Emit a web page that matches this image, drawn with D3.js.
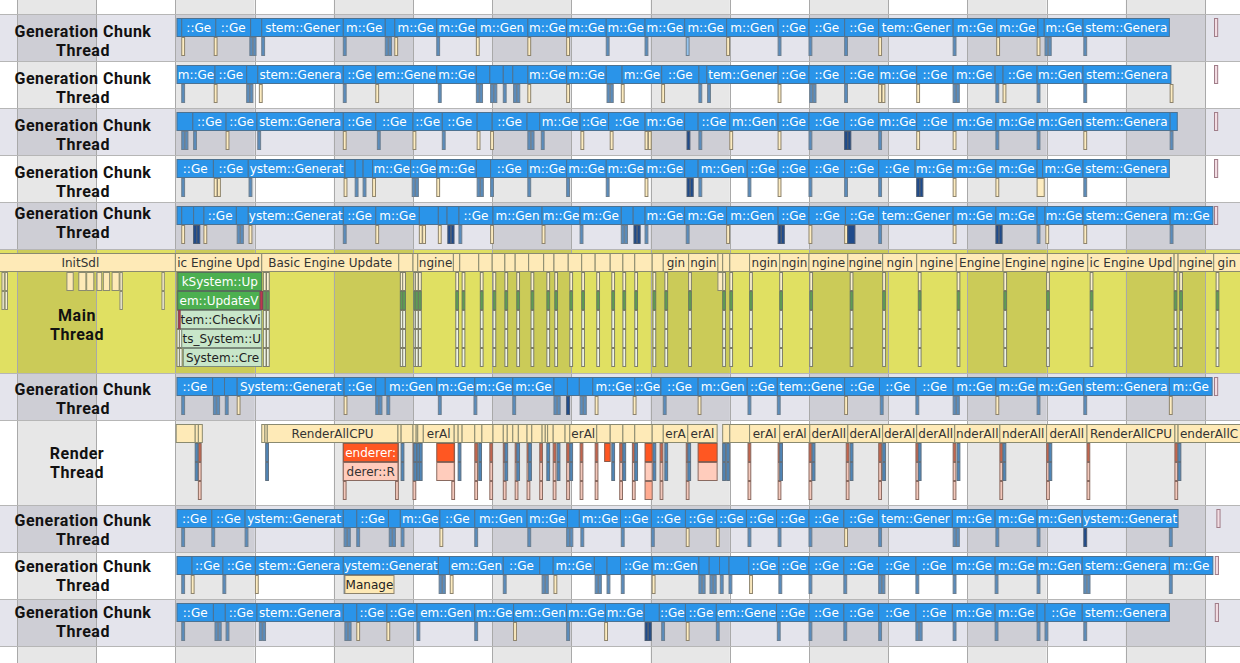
<!DOCTYPE html>
<html><head><meta charset="utf-8">
<script src="https://cdn.jsdelivr.net/npm/d3@7"></script>
<style>body{margin:0;background:#fff;overflow:hidden}svg{display:block}</style>
</head><body><svg id="chart" width="1240" height="663"></svg>
<script>
// ---------- DATA (time in ms) ----------
const columnTicks = [0,100,200,300,400,500,600,700,800,900,1000,1100,1200,1300,1400,1500];
const threadNames = ["Generation Chunk Thread","Generation Chunk Thread","Generation Chunk Thread","Generation Chunk Thread","Generation Chunk Thread","Main Thread","Generation Chunk Thread","Render Thread","Generation Chunk Thread","Generation Chunk Thread","Generation Chunk Thread"];
const threadDepth = [2,2,2,2,2,6,2,4,2,2,2];
const genLabel = "ChunkSystem::GenerateChunk";

const gen1Bounds = [202,208,251,295,309,412,465,477,530,580,645,694,744,793,843,896,961,1000,1045,1088,1182,1237,1289,1297,1346,1455];
const gen1Subs = [[208,'t'],[249,'t'],[294,'b2'],[309,'b'],[412,'b'],[465,'b2'],[477,'t'],[530,'b'],[580,'t'],[645,'t'],[694,'t'],[744,'b'],[793,'b'],[845,'lb'],[896,'t'],[961,'b'],[1000,'b'],[1045,'b'],[1088,'t'],[1182,'b'],[1237,'t'],[1288,'t'],[1298,'b2'],[1347,'b'],[1512,'m']];
const gen2Bounds = [202,250,290,304,412,453,530,580,597,614,626,645,694,744,764,814,861,871,961,1000,1045,1088,1136,1182,1235,1245,1288,1346,1457];
const gen2Subs = [[208,'b'],[249,'t'],[290,'b2'],[306,'t'],[412,'b'],[453,'t'],[532,'b'],[580,'b2'],[598,'b2'],[614,'b'],[627,'b2'],[645,'t'],[694,'t'],[745,'b2'],[763,'t'],[814,'t'],[861,'b'],[872,'b'],[961,'t'],[1001,'b2'],[1045,'b'],[1088,'t2'],[1136,'t'],[1182,'b2'],[1236,'b'],[1245,'t'],[1288,'b'],[1347,'b'],[1456,'t'],[1512,'m']];
const gen3Bounds = [202,222,264,303,412,453,500,537,581,600,644,660,711,747,793,843,860,900,961,1000,1045,1088,1136,1182,1236,1288,1346,1456,1465];
const gen3Subs = [[208,'b2'],[223,'b'],[264,'t'],[304,'b'],[412,'t'],[455,'b'],[500,'t'],[537,'b'],[581,'t'],[598,'t'],[645,'b2'],[662,'b'],[712,'t'],[749,'t'],[793,'t2'],[846,'db'],[861,'b'],[900,'t'],[961,'t'],[1000,'b'],[1045,'db2'],[1088,'b'],[1136,'t'],[1182,'t'],[1236,'b'],[1288,'b'],[1347,'t'],[1456,'b'],[1512,'m']];
const gen4Bounds = [202,248,292,414,427,437,449,497,530,580,598,645,694,744,793,843,860,922,961,1000,1045,1088,1134,1182,1236,1288,1295,1346,1455];
const gen4Subs = [[208,'b'],[249,'t2'],[293,'b'],[413,'t'],[427,'b'],[437,'b'],[449,'t'],[499,'b2'],[530,'t'],[581,'b2'],[598,'b'],[645,'b'],[694,'b'],[744,'b'],[793,'t'],[846,'db2'],[861,'b'],[923,'b'],[961,'t'],[1000,'b'],[1045,'b'],[1088,'b'],[1136,'db2'],[1182,'t'],[1236,'t'],[1288,'tw'],[1347,'b'],[1512,'m']];
const gen5Bounds = [202,208,223,236,277,292,412,453,508,532,543,558,601,663,711,763,778,793,843,896,961,1000,1046,1088,1182,1236,1288,1298,1346,1456,1510];
const gen5Subs = [[208,'t'],[223,'db2'],[236,'t'],[278,'b2'],[293,'t'],[412,'b'],[453,'t'],[508,'t2'],[532,'t'],[544,'db2'],[558,'b'],[598,'t'],[663,'t'],[711,'b'],[763,'b2'],[779,'db2'],[793,'b'],[845,'b'],[896,'t'],[961,'db2'],[1000,'t'],[1045,'t'],[1049,'dbw'],[1088,'b'],[1182,'t'],[1236,'db2'],[1288,'b'],[1299,'t'],[1347,'t'],[1456,'b'],[1512,'m']];
const gen6Bounds = [202,247,262,278,413,453,465,530,578,626,678,695,710,727,780,813,860,922,960,1045,1089,1135,1182,1236,1288,1347,1455,1509];
const gen6Subs = [[208,'b'],[248,'b2'],[263,'b'],[278,'t'],[413,'t'],[453,'b2'],[467,'b'],[532,'b'],[577,'b'],[626,'b'],[678,'b2'],[694,'db'],[711,'b2'],[730,'t'],[778,'t'],[816,'b'],[860,'t'],[923,'b'],[960,'b'],[1045,'t'],[1090,'b'],[1135,'b'],[1182,'b2'],[1236,'t'],[1288,'b'],[1347,'b'],[1455,'t'],[1512,'m']];
const gen9Bounds = [202,246,288,412,429,469,484,534,578,644,695,710,762,801,844,883,921,959,1000,1044,1088,1181,1235,1288,1345,1466];
const gen9Subs = [[208,'b'],[246,'b'],[288,'b'],[413,'b2'],[429,'b'],[470,'b2'],[485,'b'],[534,'t'],[578,'b'],[645,'b'],[694,'b2'],[712,'b'],[763,'b'],[801,'b'],[845,'t'],[883,'t'],[923,'b'],[961,'b'],[1000,'b'],[1045,'t'],[1088,'b'],[1182,'b2'],[1236,'b'],[1288,'b'],[1347,'db'],[1455,'b'],[1515,'m']];
const gen10Bounds = [202,221,260,301,412,532,546,614,660,677,729,745,762,802,861,874,887,899,924,962,1000,1044,1088,1135,1181,1235,1288,1345,1455,1510];
const gen10Subs = [[208,'b'],[220,'t'],[260,'b'],[301,'t'],[413,'b'],[533,'b2'],[547,'t'],[614,'b'],[663,'b2'],[678,'t'],[730,'b2'],[745,'b'],[763,'b'],[802,'t'],[861,'b2'],[875,'b2'],[888,'b'],[899,'b'],[925,'t'],[962,'b'],[1000,'b'],[1044,'b'],[1088,'b2'],[1135,'b'],[1182,'b'],[1235,'b'],[1288,'b'],[1347,'b2'],[1455,'b'],[1513,'m']];
const gen10Extra = [[414,476,1,"Manager"]];
const gen11Bounds = [202,248,263,303,412,429,467,505,578,627,694,743,792,811,844,883,959,1000,1044,1088,1135,1181,1235,1288,1298,1345,1455];
const gen11Subs = [[208,'b'],[250,'b2'],[264,'b'],[306,'b2'],[414,'b2'],[429,'t'],[467,'t'],[505,'b'],[578,'b'],[627,'t'],[694,'b'],[742,'t'],[793,'db2'],[814,'b'],[845,'t'],[883,'b'],[960,'b'],[1000,'b'],[1044,'b'],[1088,'b'],[1135,'b2'],[1182,'b'],[1235,'b'],[1288,'b'],[1298,'b'],[1347,'b'],[1513,'m']];

// Main thread
const initSdl = [-40,200,"InitSdl"];
const engineBounds = [200,309,482,500,506,551,559,583,600,616,629,646,665,678,696,713,730,749,765,780,802,816,848,885,891,900,925,963,1000,1049,1093,1136,1186,1245,1301,1352,1461,1466,1511,1570];
const engineLabel = "Basic Engine Update";
const initChildren = [[63,71],[78,87],[88,97],[101,107],[109,117],[120,129]];
const initThin = [-19,-15,130,183];
const mainThin = [202,205,311,315,484,487,501,503,507,554,562,585,601,616,631,649,669,679,698,713,732,751,765,780,803,818,848,891,900,925,963,1001,1052,1093,1138,1187,1246,1300,1355,1461,1468,1514];
const mainBlocks = [
  [203,309,1,"ChunkSystem::Update","g"],
  [203,307,2,"ViewSystem::UpdateVisibility","g"],
  [307,310,2,"","r"],
  [205,309,3,"ViewSystem::CheckVisibility","lg"],
  [204,206,3,"","r"],
  [208,309,4,"Effects_System::Update","lg"],
  [210,309,5,"RenderSystem::CreateMesh","lg"],
  [885,891,1,"","t"]
];

// Render thread
const renderTopGroups = [
  [201,225,229,234],
  [309,313,316,481,485,500,504,506,513,552,557,562,578,587,601,614,619,626,633,644,650,663,667,670,677,692,698,732,749,765,780,802,816,847,884],
  [891,900,925,963,1001,1049,1093,1136,1184,1241,1300,1351,1462,1466,1570]
];
const renderLabel = "RenderAllCPU";
const renderBlocks = [
  [412,481,1,"MeshRenderer::Draw","red"],[412,481,2,"SpriteRenderer::RenderBatch","pink"],
  [530,552,1,"MeshRenderer::Draw","red"],[530,552,2,"SpriteRenderer::RenderBatch","pink"],
  [742,749,1,"","red"],
  [793,802,1,"","red"],[793,802,2,"","pink"],[793,802,3,"","salmon"],
  [860,884,1,"MeshRenderer::Draw","red"],[860,884,2,"SpriteRenderer::RenderBatch","pink"]
];
const renderThinR = [229,412,478,500,549,578,597,614,629,644,660,677,694,711,730,761,777,812,845,923,961,1000,1047,1088,1135,1182,1241,1300,1351,1462];
const renderThinB = [225,314,485,501,505,508,557,583,616,631,646,669,682,698,751,765,780,803,818,847,891,896,963,1004,1052,1093,1138,1187,1245,1303,1466];

// ---------- RENDER ----------
const W = 1240, H = 663, LV = 19;
const svg = d3.select("#chart");
const x = d3.scaleLinear().domain([0,1500]).range([17,1205]);

let yCur = 14;
const rows = threadNames.map((n,i)=>{
  const h = threadDepth[i]*LV + 9 + (i===5?1:0);
  const r = {name:n, i, top:yCur, h};
  yCur += h; return r;
});
const labelOffset = [27,26.5,27,26.5,21,75.5,25.5,42.5,24.5,23.5,22.5];

svg.append("rect").attr("width",W).attr("height",H).attr("fill","#ffffff");
rows.forEach(r=>{
  svg.append("rect").attr("x",0).attr("y",r.top).attr("width",W).attr("height",r.h)
    .attr("fill", r.i===5 ? "#e0e062" : (r.i%2===0 ? "#e4e4ec" : "#ffffff"));
});
columnTicks.forEach((t,k)=>{
  if(k%2===0) svg.append("rect").attr("x",x(t)).attr("y",0).attr("width",x(t+100)-x(t)).attr("height",H).attr("fill","rgba(0,0,0,0.095)");
});
svg.append("g").selectAll("line").data(columnTicks).join("line")
  .attr("x1",d=>Math.round(x(d))+0.5).attr("x2",d=>Math.round(x(d))+0.5).attr("y1",0).attr("y2",H)
  .attr("stroke","#a9a9a9").attr("stroke-width",1);
svg.append("g").selectAll("line").data(rows.map(r=>r.top).concat([yCur])).join("line")
  .attr("x1",0).attr("x2",W).attr("y1",d=>d+0.5).attr("y2",d=>d+0.5)
  .attr("stroke","#b6b6b6").attr("stroke-width",1);

// thread labels
rows.forEach(r=>{
  const parts = r.name === "Generation Chunk Thread" ? ["Generation Chunk","Thread"] : r.name.split(" ");
  const cx = r.name === "Generation Chunk Thread" ? 83 : 77;
  const cy = r.top + labelOffset[r.i];
  const t = svg.append("text").attr("text-anchor","middle").attr("font-family","Roboto,sans-serif")
    .attr("font-weight",700).attr("font-size",16).attr("letter-spacing",0.5).attr("fill","#111");
  parts.forEach((p,j)=>{
    t.append("tspan").attr("x",cx).attr("y",cy + (j-0.5)*19 + 5.5).text(p);
  });
});

// text fitting: keep the centred part of a label that fits inside its bar
const ctx = document.createElement("canvas").getContext("2d");
ctx.font = "12px 'DejaVu Sans'";
const fitCache = new Map();
function fitLabel(label, avail){
  const key = label + "|" + Math.floor(avail*2);
  if(fitCache.has(key)) return fitCache.get(key);
  let out = "";
  const n = label.length;
  for(let len=n; len>=1; len--){
    const sub = label.substr(Math.floor((n-len)/2),len);
    if(ctx.measureText(sub).width <= avail){ out = sub; break; }
  }
  fitCache.set(key,out); return out;
}

const barsG = svg.append("g");
function bar(top, t0, t1, level, fill, stroke, label, tcol){
  const bx = x(t0), bw = Math.max(1.5, x(t1)-x(t0));
  const by = top + 4 + level*LV;
  barsG.append("rect").attr("x",bx).attr("y",by+0.5).attr("width",bw).attr("height",LV-1)
    .attr("fill",fill).attr("stroke",stroke).attr("stroke-width",1);
  if(label && bw > 21){
    let cx = bx + bw/2, half = bw/2;
    const visL = Math.max(bx, 0), visR = Math.min(bx+bw, W);
    if(visR < bx+bw){ cx = (visL+visR)/2; half = (visR-visL)/2; }
    else half = Math.min(cx - visL, visR - cx);
    const txt = fitLabel(label, 2*half - 1);
    if(txt.length >= 2){
      barsG.append("text").attr("x",cx).attr("y",by+14).attr("text-anchor","middle")
        .attr("font-family","'DejaVu Sans',sans-serif").attr("font-size",12).attr("fill",tcol).text(txt);
    }
  }
}
const subStyle = {
  b:["#5a8cbc","#6d7f90"], t:["#fdecc0","#8d836c"], db:["#1f4b8c","#4a5a70"],
  lb:["#95c4ef","#6d7f90"], m:["#f3dde3","#a07d89"]
};
function drawGen(r, bounds, subs, extra){
  for(let k=0;k<bounds.length-1;k++)
    bar(r.top, bounds[k], bounds[k+1], 0, "#2a94e9", "#4d7291", genLabel, "#ffffff");
  subs.forEach(([t,kind])=>{
    if(kind==='m'){ bar(r.top, t, t+4, 0, subStyle.m[0], subStyle.m[1]); return; }
    const base = kind.replace(/[2w]$/,'');
    const st = subStyle[base];
    if(kind.endsWith('2')){ bar(r.top,t,t+3.6,1,st[0],st[1]); bar(r.top,t+4.2,t+7.8,1,st[0],st[1]); }
    else if(kind.endsWith('w')){ bar(r.top,t,t+9,1,st[0],st[1]); }
    else bar(r.top,t,t+3.6,1,st[0],st[1]);
  });
  (extra||[]).forEach(([a,b,l,name])=>bar(r.top,a,b,l,"#fee9b5","#8d836c",name,"#222"));
}
const genData = {0:[gen1Bounds,gen1Subs],1:[gen2Bounds,gen2Subs],2:[gen3Bounds,gen3Subs],3:[gen4Bounds,gen4Subs],4:[gen5Bounds,gen5Subs],6:[gen6Bounds,gen6Subs],8:[gen9Bounds,gen9Subs],9:[gen10Bounds,gen10Subs,gen10Extra],10:[gen11Bounds,gen11Subs]};
Object.keys(genData).forEach(k=>drawGen(rows[+k], ...genData[k]));

// main thread
const M = rows[5];
bar(M.top, initSdl[0], initSdl[1], 0, "#feeab7", "#8a8a70", initSdl[2], "#333");
for(let k=0;k<engineBounds.length-1;k++)
  bar(M.top, engineBounds[k], engineBounds[k+1], 0, "#feeab7", "#8a8a70", engineLabel, "#333");
initChildren.forEach(([a,b])=>bar(M.top,a,b,1,"#feeab7","#8a8a70"));
initThin.forEach(t=>{ bar(M.top,t,t+3,1,"#fdf0cc","#8a8a70"); bar(M.top,t,t+3,2,"#f4f0d8","#8a8a70"); });
mainThin.forEach(t=>{
  bar(M.top,t,t+3.5,1,"#fbf1cf","#7d7d68");
  bar(M.top,t,t+3.5,2,"#5d9c55","#6a7a60");
  for(let l=3;l<=5;l++) bar(M.top,t,t+3.5,l,"#eef3e4","#7d7d68");
});
const blockFill = {g:["#4caf50","#55705a","#ffffff"], lg:["#c8e6c9","#7c8c7c","#222"], r:["#c0364f","#8a4050","#fff"], t:["#fdecc0","#8a8a70","#222"]};
mainBlocks.forEach(([a,b,l,name,kind])=>{ const s=blockFill[kind]; bar(M.top,a,b,l,s[0],s[1],name,s[2]); });

// render thread
const R = rows[7];
renderTopGroups.forEach(g=>{
  for(let k=0;k<g.length-1;k++) bar(R.top,g[k],g[k+1],0,"#feeab7","#8a8a70",renderLabel,"#333");
});
renderThinR.forEach(t=>{
  bar(R.top,t,t+3.5,1,"#c2654e","#8a6a60");
  bar(R.top,t,t+3.5,2,"#f3c8bb","#8a6a60");
  bar(R.top,t,t+3.5,3,"#f3c8bb","#8a6a60");
});
renderThinB.forEach(t=>{
  bar(R.top,t,t+3.5,1,"#4f86b8","#5f7080");
  bar(R.top,t,t+3.5,2,"#4f86b8","#5f7080");
});
const rFill = {red:["#ff5722","#8a5a4a","#ffffff"], pink:["#ffccbc","#8a6a60","#333"], salmon:["#ffab91","#8a6a60","#333"]};
renderBlocks.forEach(([a,b,l,name,kind])=>{ const s=rFill[kind]; bar(R.top,a,b,l,s[0],s[1],name,s[2]); });
</script></body></html>
